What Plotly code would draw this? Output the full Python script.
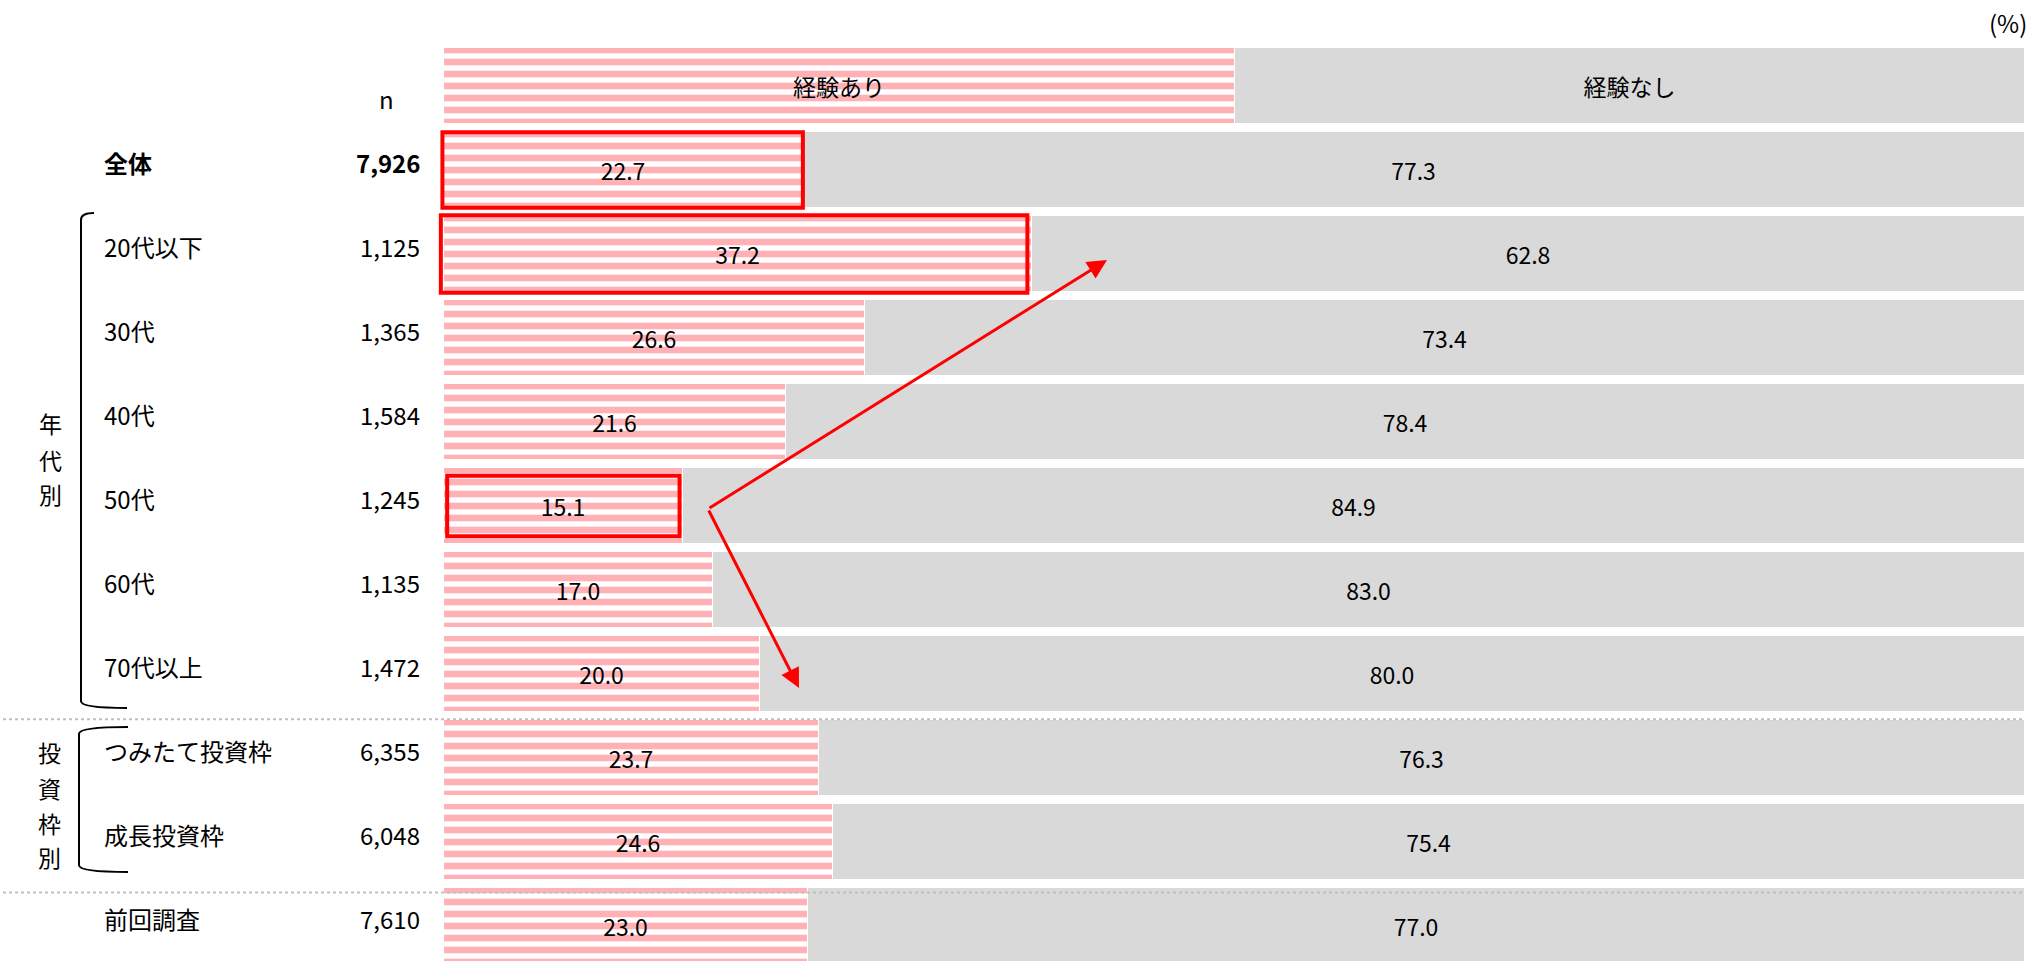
import plotly.graph_objects as go

# ---------------- data ----------------
categories = ["全体", "20代以下", "30代", "40代", "50代", "60代", "70代以上",
              "つみたて投資枠", "成長投資枠", "前回調査"]
n_values = ["7,926", "1,125", "1,365", "1,584", "1,245", "1,135", "1,472",
            "6,355", "6,048", "7,610"]
experienced = [22.7, 37.2, 26.6, 21.6, 15.1, 17.0, 20.0, 23.7, 24.6, 23.0]
not_experienced = [77.3, 62.8, 73.4, 78.4, 84.9, 83.0, 80.0, 76.3, 75.4, 77.0]
series_names = ["経験あり", "経験なし"]
header_split = [50, 50]
group_age = "年代別"
group_frame = "投資枠別"
highlight_rows = ["全体", "20代以下", "50代"]

# ---------------- layout helpers ----------------
W, H = 2030, 961
L_PX, R_PX, T_PX, B_PX = 0, 5, 44, 0
PITCH = 84.0
X_MIN = -444 / 15.81
plot_w = W - L_PX - R_PX
x_per_px = (100 - X_MIN) / plot_w


def px_x(px):
    return X_MIN + (px - L_PX) * x_per_px


def px_y(py):
    return (py - T_PX) / PITCH - 0.5


y_rows = list(range(1, len(categories) + 1))
y_top = -0.5
y_bottom = y_top + (H - T_PX - B_PX) / PITCH

PINK = "#FFB1B5"
GRAY = "#D9D9D9"
RED = "#FF0000"
FONT = "Noto Sans CJK JP"
FS = 24

fig = go.Figure()

pattern = dict(shape="-", size=12, solidity=0.55, fgcolor=PINK, bgcolor="white",
               fillmode="replace")

# header (legend-like) row
fig.add_trace(go.Bar(
    y=[0], x=[header_split[0]], orientation="h", width=0.9,
    marker=dict(color=PINK, pattern=pattern, line=dict(color="white", width=1)),
    text=[series_names[0]], textposition="inside", insidetextanchor="middle",
    textangle=0, textfont=dict(family=FONT, size=FS - 1, color="black"),
    hoverinfo="skip", showlegend=False))
fig.add_trace(go.Bar(
    y=[0], x=[header_split[1]], orientation="h", width=0.9,
    marker=dict(color=GRAY, line=dict(color="white", width=1)),
    text=[series_names[1]], textposition="inside", insidetextanchor="middle",
    textangle=0, textfont=dict(family=FONT, size=FS - 1, color="black"),
    hoverinfo="skip", showlegend=False))

# data rows
fig.add_trace(go.Bar(
    y=y_rows, x=experienced, orientation="h", width=0.9, name=series_names[0],
    marker=dict(color=PINK, pattern=pattern, line=dict(color="white", width=1)),
    text=[f"{v:.1f}" for v in experienced], textposition="inside",
    insidetextanchor="middle", textangle=0,
    textfont=dict(family=FONT, size=FS, color="black"),
    hoverinfo="skip", showlegend=False))
fig.add_trace(go.Bar(
    y=y_rows, x=not_experienced, orientation="h", width=0.9, name=series_names[1],
    marker=dict(color=GRAY, line=dict(color="white", width=1)),
    text=[f"{v:.1f}" for v in not_experienced], textposition="inside",
    insidetextanchor="middle", textangle=0,
    textfont=dict(family=FONT, size=FS, color="black"),
    hoverinfo="skip", showlegend=False))

annotations = []
shapes = []

# row labels and n
for i, (cat, n) in enumerate(zip(categories, n_values)):
    bold = cat == "全体"
    lab = f"<b>{cat}</b>" if bold else cat
    nn = f"<b>{n}</b>" if bold else n
    annotations.append(dict(x=px_x(102), y=y_rows[i], text=lab, showarrow=False,
                            xanchor="left", yanchor="middle", yshift=8,
                            font=dict(family=FONT, size=FS, color="black")))
    annotations.append(dict(x=px_x(422), y=y_rows[i], text=nn, showarrow=False,
                            xanchor="right", yanchor="middle", yshift=8,
                            font=dict(family=FONT, size=FS, color="black")))

annotations.append(dict(x=px_x(386), y=0, text="n", showarrow=False,
                        xanchor="center", yanchor="middle", yshift=-12,
                        font=dict(family=FONT, size=FS, color="black")))

# group labels (vertical)
for ch, py in zip(group_age, [423, 460, 494]):
    annotations.append(dict(x=px_x(50), y=px_y(py), text=ch, showarrow=False,
                            xanchor="center", yanchor="middle",
                            font=dict(family=FONT, size=FS - 1, color="black")))
for ch, py in zip(group_frame, [752, 788, 823, 857]):
    annotations.append(dict(x=px_x(49), y=px_y(py), text=ch, showarrow=False,
                            xanchor="center", yanchor="middle",
                            font=dict(family=FONT, size=FS - 1, color="black")))

# (%) unit
annotations.append(dict(xref="paper", yref="paper", x=1.0, y=1 + (T_PX - 22) / (H - T_PX - B_PX),
                        text="(%)", showarrow=False, xanchor="right", yanchor="middle",
                        xshift=4, font=dict(family=FONT, size=FS, color="black")))


# brackets
def bracket(xv, yt, yb, xh_top, xh_bot):
    r = 0.08
    return ("M {a},{b} Q {c},{b} {c},{d} L {c},{e} Q {c},{f} {g},{f}"
            .format(a=px_x(xh_top), b=px_y(yt), c=px_x(xv), d=px_y(yt) + r,
                    e=px_y(yb) - r, f=px_y(yb), g=px_x(xh_bot)))


shapes.append(dict(type="path", path=bracket(81, 213, 708, 94, 127),
                   line=dict(color="black", width=2)))
shapes.append(dict(type="path", path=bracket(79, 727, 872, 128, 128),
                   line=dict(color="black", width=2)))

# dotted separators
for yv in [7.5 + 0.04, 9.5 + 0.1]:
    shapes.append(dict(type="line", xref="paper", x0=0.0015, x1=1.0, y0=yv, y1=yv,
                       line=dict(color="#BFBFBF", width=2, dash="dot")))

# highlight boxes
for cat in highlight_rows:
    i = categories.index(cat)
    v = experienced[i]
    if cat == "50代":
        x0, x1, hh = 0.2, v - 0.2, 0.36
    elif cat == "20代以下":
        x0, x1, hh = -0.2, v - 0.3, 0.46
    else:
        x0, x1, hh = -0.1, v, 0.45
    shapes.append(dict(type="rect", x0=x0, x1=x1, y0=y_rows[i] - hh, y1=y_rows[i] + hh,
                       line=dict(color=RED, width=4), fillcolor="rgba(0,0,0,0)"))

# arrows from the 50代 box
tail_x, tail_y = px_x(708), px_y(509)
for hx, hy in [(px_x(1107), px_y(260)), (px_x(799), px_y(688))]:
    annotations.append(dict(x=hx, y=hy, ax=tail_x, ay=tail_y, axref="x", ayref="y",
                            xref="x", yref="y", text="", showarrow=True,
                            arrowhead=2, arrowsize=1.3, arrowwidth=3, arrowcolor=RED))

fig.update_layout(
    width=W, height=H, barmode="stack", bargap=0,
    margin=dict(l=L_PX, r=R_PX, t=T_PX, b=B_PX, pad=0),
    paper_bgcolor="white", plot_bgcolor="white",
    xaxis=dict(range=[X_MIN, 100], showgrid=False, zeroline=False,
               showticklabels=False, showline=False, fixedrange=True),
    yaxis=dict(range=[y_bottom, y_top], showgrid=False, zeroline=False,
               showticklabels=False, showline=False, fixedrange=True),
    annotations=annotations, shapes=shapes,
    font=dict(family=FONT, size=FS, color="black"),
    uniformtext=dict(mode="show", minsize=FS - 1),
)

fig.write_html("out.html", config={"displayModeBar": False},
               post_script="document.body.style.margin='0';document.body.style.overflow='hidden';")
